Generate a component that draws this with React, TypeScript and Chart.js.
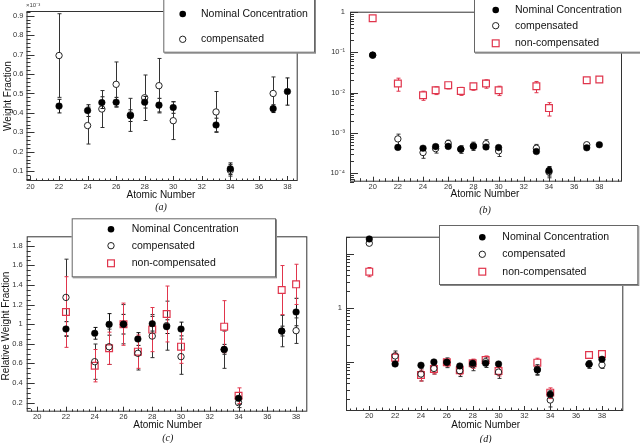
import React, { useEffect, useRef } from "react";
import { Chart, registerables } from "chart.js";
Chart.register(...registerables);

const RED = "#e0354c";
const FONT = "'Liberation Sans', Arial, sans-serif";
const SERIF = "'Liberation Serif', 'DejaVu Serif', serif";

// ---------- shared categories ----------
const atomicZ = [22, 24, 25, 26, 27, 28, 29, 30, 33, 34, 37, 38];
const atomicZWithCa = [20, 22, 24, 25, 26, 27, 28, 29, 30, 33, 34, 37, 38];
const xTickValues = [20, 22, 24, 26, 28, 30, 32, 34, 36, 38];
const legendLabels = ["Nominal Concentration", "compensated", "non-compensated"];

// ---------- panel (a): weight fraction, x10^-3 ----------
const aTickValues = [0.1, 0.2, 0.3, 0.4, 0.5, 0.6, 0.7, 0.8, 0.9];
const aNominal = [0.435, 0.412, 0.453, 0.455, 0.386, 0.455, 0.44, 0.428, 0.338, 0.113, 0.422, 0.51];
const aNominalErr = [0.035, 0.03, 0.03, 0.025, 0.03, 0.03, 0.035, 0.03, 0.035, 0.03, 0.02, 0.07];
const aComp = [0.695, 0.335, 0.42, 0.547, 0.39, 0.478, 0.54, 0.36, 0.405, 0.105, 0.5, null];
const aCompErr = [0.215, 0.095, 0.095, 0.115, 0.085, 0.117, 0.14, 0.097, 0.105, 0.03, 0.085, null];

// ---------- panel (b): weight fraction, log ----------
const bTickValues = [1e-4, 1e-3, 1e-2, 1e-1, 1];
const bTickLabels = ["10\u207B\u2074", "10\u207B\u00B3", "10\u207B\u00B2", "10\u207B\u00B9", "1"];
const bNominal = [0.086, 4.3e-4, 4.1e-4, 4.5e-4, 4.55e-4, 3.85e-4, 4.55e-4, 4.4e-4, 4.25e-4, 3.4e-4, 1.13e-4, 4.2e-4, 5.0e-4];
const bNominalErr = [0.009, 3e-5, 3e-5, 3e-5, 2.5e-5, 3e-5, 3e-5, 3.5e-5, 3e-5, 3.5e-5, 3e-5, 2e-5, 5e-5];
const bComp = [0.085, 7.0e-4, 3.2e-4, 4.0e-4, 5.4e-4, 3.9e-4, 4.7e-4, 5.3e-4, 3.5e-4, 4.1e-4, 1.05e-4, 5.0e-4, null];
const bCompErr = [0.008, 2.2e-4, 9e-5, 9e-5, 1.1e-4, 8.5e-5, 1.1e-4, 1.4e-4, 9.5e-5, 1.0e-4, 3e-5, 8.5e-5, null];
const bNonComp = [0.71, 0.0168, 0.0086, 0.0114, 0.0153, 0.011, 0.0144, 0.0168, 0.0114, 0.0144, 0.0041, 0.0203, 0.0211];
const bNonCompErr = [0.12, 0.006, 0.0022, 0.0025, 0.003, 0.0025, 0.003, 0.004, 0.003, 0.0045, 0.0015, 0.002, 0.0015];

// ---------- panel (c): relative weight fraction ----------
const cTickValues = [0.2, 0.4, 0.6, 0.8, 1.0, 1.2, 1.4, 1.6, 1.8];
const cNominal = [0.951, 0.907, 0.998, 1.0, 0.849, 1.005, 0.975, 0.951, 0.744, 0.244, 0.93, 1.124];
const cNominalErr = [0.075, 0.06, 0.11, 0.1, 0.065, 0.075, 0.07, 0.07, 0.05, 0.06, 0.05, 0.14];
const cComp = [1.273, 0.618, 0.77, 1.0, 0.703, 0.879, 0.985, 0.669, 0.74, 0.2, 0.93, 0.934];
const cCompErr = [0.39, 0.18, 0.18, 0.2, 0.17, 0.22, 0.25, 0.18, 0.19, 0.05, 0.16, 0.13];
const cNonComp = [1.124, 0.577, 0.754, 1.0, 0.72, 0.945, 1.104, 0.771, 0.975, 0.271, 1.348, 1.406];
const cNonCompErr = [0.36, 0.165, 0.165, 0.215, 0.17, 0.225, 0.285, 0.17, 0.265, 0.08, 0.25, 0.205];

// ---------- panel (d): relative weight fraction, log ----------
const dTickValues = [0.1, 1, 10];
const dTickLabels = ["", "1", ""];
const dNominal = [18.7, 0.0907, 0.0858, 0.0987, 0.0975, 0.0832, 0.0934, 0.0934, 0.0907, 0.0702, 0.0249, 0.0895, 0.1107];
const dNominalErr = [1.5, 0.008, 0.007, 0.008, 0.008, 0.007, 0.008, 0.008, 0.008, 0.012, 0.004, 0.008, 0.009];
const dComp = [15.6, 0.1276, 0.059, 0.075, 0.0975, 0.068, 0.088, 0.1, 0.064, 0.072, 0.0195, 0.09, 0.0869];
const dCompErr = [1.8, 0.03, 0.015, 0.016, 0.02, 0.015, 0.02, 0.022, 0.015, 0.016, 0.005, 0.015, 0.012];
const dNonComp = [4.64, 0.1186, 0.0567, 0.0732, 0.0975, 0.0693, 0.0934, 0.1075, 0.0673, 0.0958, 0.0267, 0.133, 0.139];
const dNonCompErr = [0.9, 0.026, 0.013, 0.014, 0.015, 0.012, 0.018, 0.02, 0.013, 0.02, 0.006, 0.018, 0.015];

type Kind = "nominal" | "comp" | "noncomp";
type Series = { kind: Kind; x: number[]; y: (number | null)[]; err: (number | null)[] };

type PanelCfg = {
  id: string;
  area: { left: number; top: number; right: number; bottom: number };
  xMin: number; xMax: number; xMinorStep: number;
  yType: "linear" | "logarithmic";
  yMin: number; yMax: number;
  yTicks: number[]; yLabel: (v: number) => string; yMinorStep?: number;
  yPad: number; xPad: number;
  series: Series[];
  legend: { box: [number, number, number, number]; markerX: number; textX: number; rows: number[] };
  xTitle: [number, number]; caption: [number, number, string];
  yTitle?: [number, number, string];
  exponent?: [number, number, string];
};

function linearMinor(min: number, max: number, start: number, step: number) {
  const out: number[] = [];
  const k0 = Math.ceil((min - start) / step - 1e-9);
  for (let k = k0; start + k * step <= max + 1e-9; k++) out.push(start + k * step);
  return out;
}
function logMinor(min: number, max: number) {
  const out: number[] = [];
  for (let e = Math.floor(Math.log10(min)) - 1; e <= Math.ceil(Math.log10(max)); e++) {
    for (let m = 1; m <= 9; m++) {
      const v = m * Math.pow(10, e);
      if (v >= min && v <= max) out.push(v);
    }
  }
  return out;
}

function drawMarker(ctx: CanvasRenderingContext2D, kind: Kind, x: number, y: number) {
  ctx.save();
  if (kind === "nominal") {
    ctx.fillStyle = "#000";
    ctx.beginPath(); ctx.arc(x, y, 3.3, 0, Math.PI * 2); ctx.fill();
  } else if (kind === "comp") {
    ctx.strokeStyle = "#222"; ctx.lineWidth = 1;
    ctx.beginPath(); ctx.arc(x, y, 3.2, 0, Math.PI * 2); ctx.stroke();
  } else {
    ctx.strokeStyle = RED; ctx.lineWidth = 1.2;
    ctx.strokeRect(x - 3.4, y - 3.4, 6.8, 6.8);
  }
  ctx.restore();
}

function makePlugin(cfg: PanelCfg) {
  return {
    id: "rootStyle" + cfg.id,
    beforeDatasetsDraw(chart: any) {
      const { ctx, chartArea: a } = chart;
      const xs = chart.scales.x, ys = chart.scales.y;
      ctx.save();
      ctx.strokeStyle = "#333";
      ctx.lineWidth = 1;
      ctx.strokeRect(a.left + 0.5, a.top + 0.5, a.right - a.left - 1, a.bottom - a.top - 1);
      const line = (x1: number, y1: number, x2: number, y2: number) => {
        ctx.beginPath(); ctx.moveTo(x1, y1); ctx.lineTo(x2, y2); ctx.stroke();
      };
      // x ticks
      const xMinor = linearMinor(cfg.xMin, cfg.xMax, 20, cfg.xMinorStep);
      xMinor.forEach((v) => {
        const px = Math.round(xs.getPixelForValue(v)) + 0.5;
        const major = xTickValues.some((t) => Math.abs(t - v) < 1e-6);
        const mid = !major && Math.abs(v - Math.round(v)) < 1e-6 && Math.round(v) % 2 === 1;
        line(px, a.bottom, px, a.bottom - (major ? 5 : mid ? 3.5 : 2.5));
      });
      // y ticks
      const yMinor = cfg.yType === "logarithmic"
        ? logMinor(cfg.yMin, cfg.yMax)
        : linearMinor(cfg.yMin, cfg.yMax, cfg.yTicks[0], cfg.yMinorStep || 0.02);
      yMinor.forEach((v) => {
        const py = Math.round(ys.getPixelForValue(v)) + 0.5;
        const major = cfg.yTicks.some((t) => Math.abs(t - v) / Math.abs(t) < 1e-6);
        line(a.left, py, a.left + (major ? 8 : 4), py);
      });
      // error bars (skip the marker area)
      cfg.series.forEach((s) => {
        ctx.strokeStyle = s.kind === "noncomp" ? RED : s.kind === "comp" ? "#333" : "#111";
        ctx.lineWidth = 1;
        const gap = s.kind === "noncomp" ? 3.4 : 3.2;
        s.x.forEach((xv, i) => {
          const yv = s.y[i], ev = s.err[i];
          if (yv == null || ev == null) return;
          const px = Math.round(xs.getPixelForValue(xv)) + 0.5;
          const py = ys.getPixelForValue(yv);
          const lo = cfg.yType === "logarithmic" ? Math.max(yv - ev, cfg.yMin * 0.5) : yv - ev;
          const pLo = ys.getPixelForValue(lo);
          const pHi = ys.getPixelForValue(yv + ev);
          if (pLo - py > gap) { line(px, py + gap, px, pLo); line(px - 2, pLo, px + 2, pLo); }
          if (py - pHi > gap) { line(px, py - gap, px, pHi); line(px - 2, pHi, px + 2, pHi); }
        });
      });
      ctx.restore();
    },
    afterDraw(chart: any) {
      const { ctx } = chart;
      ctx.save();
      // axis title and caption
      ctx.fillStyle = "#111";
      ctx.textAlign = "center";
      ctx.textBaseline = "middle";
      ctx.font = `10px ${FONT}`;
      ctx.fillText("Atomic Number", cfg.xTitle[0], cfg.xTitle[1]);
      ctx.font = `italic 10px ${SERIF}`;
      ctx.fillText(cfg.caption[2], cfg.caption[0], cfg.caption[1]);
      if (cfg.yTitle) {
        ctx.save();
        ctx.translate(cfg.yTitle[0], cfg.yTitle[1]);
        ctx.rotate(-Math.PI / 2);
        ctx.font = `10px ${FONT}`;
        ctx.fillText(cfg.yTitle[2], 0, 0);
        ctx.restore();
      }
      if (cfg.exponent) {
        ctx.textAlign = "left";
        ctx.font = `6px ${FONT}`;
        ctx.fillStyle = "#444";
        ctx.fillText(cfg.exponent[2], cfg.exponent[0], cfg.exponent[1]);
      }
      // legend
      const [bx1, by1, bx2, by2] = cfg.legend.box;
      ctx.fillStyle = "#888";
      ctx.fillRect(bx1 + 1, by1 + 1, bx2 - bx1, by2 - by1);
      ctx.fillStyle = "#fff";
      ctx.fillRect(bx1, by1, bx2 - bx1, by2 - by1);
      ctx.strokeStyle = "#666";
      ctx.lineWidth = 1;
      ctx.strokeRect(bx1 + 0.5, by1 + 0.5, bx2 - bx1 - 1, by2 - by1 - 1);
      ctx.textAlign = "left";
      ctx.font = `10.5px ${FONT}`;
      cfg.legend.rows.forEach((ry, i) => {
        const kind = cfg.series[i].kind;
        drawMarker(ctx, kind, cfg.legend.markerX, ry);
        ctx.fillStyle = "#111";
        ctx.fillText(legendLabels[i], cfg.legend.textX, ry);
      });
      ctx.restore();
    },
  };
}

const W = 640, H = 443;

function buildChart(canvas: HTMLCanvasElement, cfg: PanelCfg) {
  const styles: Record<Kind, any> = {
    nominal: { pointStyle: "circle", pointRadius: 3.3, backgroundColor: "#000", borderColor: "#000", borderWidth: 0.5 },
    comp: { pointStyle: "circle", pointRadius: 3.2, backgroundColor: "rgba(0,0,0,0)", borderColor: "#222", borderWidth: 1 },
    noncomp: { pointStyle: "rect", pointRadius: 4.8, backgroundColor: "rgba(0,0,0,0)", borderColor: RED, borderWidth: 1.2 },
  };
  const datasets = cfg.series.map((s) => ({
    label: s.kind,
    data: s.x
      .map((x, i) => (s.y[i] == null ? null : { x, y: s.y[i] as number }))
      .filter((p) => p !== null),
    showLine: false,
    clip: false as any,
    ...styles[s.kind],
  }));
  const tickFont = { family: FONT, size: 7.5 };
  return new Chart(canvas, {
    type: "scatter",
    data: { datasets },
    options: {
      responsive: false,
      animation: false,
      events: [],
      layout: { padding: { left: 0, top: cfg.area.top, right: W - cfg.area.right, bottom: 0 } },
      plugins: { legend: { display: false }, tooltip: { enabled: false }, title: { display: false } },
      scales: {
        x: {
          type: "linear",
          position: "bottom",
          min: cfg.xMin,
          max: cfg.xMax,
          grid: { display: false, drawTicks: false },
          border: { display: false },
          afterFit: (s: any) => { s.height = H - cfg.area.bottom; },
          afterBuildTicks: (s: any) => { s.ticks = xTickValues.map((v) => ({ value: v })); },
          ticks: {
            autoSkip: false, maxRotation: 0, padding: cfg.xPad, font: tickFont, color: "#333",
            callback: (v: any) => String(v),
          },
        },
        y: {
          type: cfg.yType,
          position: "left",
          min: cfg.yMin,
          max: cfg.yMax,
          grid: { display: false, drawTicks: false },
          border: { display: false },
          afterFit: (s: any) => { s.width = cfg.area.left; },
          afterBuildTicks: (s: any) => { s.ticks = cfg.yTicks.map((v) => ({ value: v })); },
          ticks: {
            autoSkip: false, padding: cfg.yPad, font: tickFont, color: "#333",
            callback: (v: any) => cfg.yLabel(Number(v)),
          },
        },
      },
    } as any,
    plugins: [makePlugin(cfg)],
  });
}

const panels: PanelCfg[] = [
  {
    id: "a",
    area: { left: 26.5, top: 11, right: 297.7, bottom: 181 },
    xMin: 19.72, xMax: 38.72, xMinorStep: 0.4,
    yType: "linear", yMin: 0.05, yMax: 0.924,
    yTicks: aTickValues, yLabel: (v) => String(Number(v.toFixed(1))), yMinorStep: 0.02,
    yPad: 3, xPad: 1,
    series: [
      { kind: "nominal", x: atomicZ, y: aNominal, err: aNominalErr },
      { kind: "comp", x: atomicZ, y: aComp, err: aCompErr },
    ],
    legend: { box: [163.3, -2, 315, 52.7], markerX: 182.7, textX: 201, rows: [14, 39.3] },
    xTitle: [161, 195], caption: [161, 207, "(a)"],
    yTitle: [8.5, 96, "Weight Fraction"],
    exponent: [26, 5.5, "\u00D710\u207B\u00B3"],
  },
  {
    id: "b",
    area: { left: 350, top: 11.7, right: 622, bottom: 181.7 },
    xMin: 18.2, xMax: 39.8, xMinorStep: 0.5,
    yType: "logarithmic", yMin: 6e-5, yMax: 1.035,
    yTicks: bTickValues,
    yLabel: (v) => { const i = bTickValues.findIndex((t) => Math.abs(t - v) / t < 1e-6); return i >= 0 ? bTickLabels[i] : ""; },
    yPad: 5, xPad: 0.5,
    series: [
      { kind: "nominal", x: atomicZWithCa, y: bNominal, err: bNominalErr },
      { kind: "comp", x: atomicZWithCa, y: bComp, err: bCompErr },
      { kind: "noncomp", x: atomicZWithCa, y: bNonComp, err: bNonCompErr },
    ],
    legend: { box: [474, -2, 642, 52.7], markerX: 495.7, textX: 515, rows: [10, 25.7, 43.3] },
    xTitle: [485, 194.3], caption: [485, 210.7, "(b)"],
  },
  {
    id: "c",
    area: { left: 26.7, top: 236.3, right: 307.3, bottom: 411.7 },
    xMin: 19.27, xMax: 38.78, xMinorStep: 0.4,
    yType: "linear", yMin: 0.108, yMax: 1.896,
    yTicks: cTickValues, yLabel: (v) => String(Number(v.toFixed(1))), yMinorStep: 0.05,
    yPad: 4, xPad: 1,
    series: [
      { kind: "nominal", x: atomicZ, y: cNominal, err: cNominalErr },
      { kind: "comp", x: atomicZ, y: cComp, err: cCompErr },
      { kind: "noncomp", x: atomicZ, y: cNonComp, err: cNonCompErr },
    ],
    legend: { box: [71.7, 218.3, 276, 277.3], markerX: 111, textX: 131.7, rows: [229.3, 245.7, 263.3] },
    xTitle: [167.7, 425], caption: [167.7, 438.7, "(c)"],
    yTitle: [6.5, 326, "Relative Weight Fraction"],
  },
  {
    id: "d",
    area: { left: 346, top: 236.7, right: 623.3, bottom: 411 },
    xMin: 18.2, xMax: 39.65, xMinorStep: 0.5,
    yType: "logarithmic", yMin: 0.0122, yMax: 20.6,
    yTicks: dTickValues,
    yLabel: (v) => { const i = dTickValues.findIndex((t) => Math.abs(t - v) / t < 1e-6); return i >= 0 ? dTickLabels[i] : ""; },
    yPad: 4, xPad: 0.5,
    series: [
      { kind: "nominal", x: atomicZWithCa, y: dNominal, err: dNominalErr },
      { kind: "comp", x: atomicZWithCa, y: dComp, err: dCompErr },
      { kind: "noncomp", x: atomicZWithCa, y: dNonComp, err: dNonCompErr },
    ],
    legend: { box: [439, 225, 638.3, 285], markerX: 482.3, textX: 502.3, rows: [237.3, 254.3, 271.7] },
    xTitle: [485.7, 425.7], caption: [485.7, 439, "(d)"],
  },
];

function Panel({ cfg }: { cfg: PanelCfg }) {
  const ref = useRef<HTMLCanvasElement>(null);
  useEffect(() => {
    if (!ref.current) return;
    const chart = buildChart(ref.current, cfg);
    return () => chart.destroy();
  }, [cfg]);
  return (
    <canvas
      ref={ref}
      width={W}
      height={H}
      style={{ position: "absolute", left: 0, top: 0, width: W, height: H }}
    />
  );
}

export default function App() {
  return (
    <div style={{ position: "fixed", left: 0, top: 0, width: W, height: H, background: "#fff", overflow: "hidden" }}>
      {panels.map((p) => (
        <Panel key={p.id} cfg={p} />
      ))}
    </div>
  );
}
